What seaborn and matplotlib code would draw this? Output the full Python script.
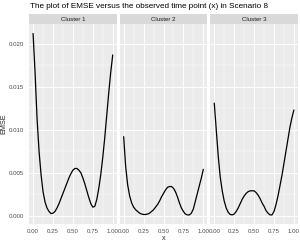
import numpy as np
import pandas as pd
import matplotlib
matplotlib.use("Agg")
import matplotlib.pyplot as plt
import seaborn as sns
from matplotlib.patches import Rectangle
from matplotlib.ticker import MultipleLocator, FormatStrFormatter

# -----------------------------
# DATA
# -----------------------------
x_points = [0.000, 0.025, 0.050, 0.075, 0.100, 0.125, 0.150, 0.175, 0.200, 0.225,
            0.250, 0.275, 0.300, 0.325, 0.350, 0.375, 0.400, 0.425, 0.450, 0.475,
            0.500, 0.525, 0.550, 0.575, 0.600, 0.625, 0.650, 0.675, 0.700, 0.725,
            0.750, 0.775, 0.800, 0.825, 0.850, 0.875, 0.900, 0.925, 0.950, 0.975,
            1.000]

emse_cluster1 = [0.0212, 0.0166, 0.0113, 0.0075, 0.0048, 0.0028, 0.0016, 0.0009,
                 0.0005, 0.00025, 0.0003, 0.0005, 0.0009, 0.0014, 0.0020, 0.0026,
                 0.0032, 0.0038, 0.0044, 0.0049, 0.0053, 0.0055, 0.0055, 0.0053,
                 0.0050, 0.0044, 0.0037, 0.0029, 0.0021, 0.0014, 0.0010, 0.0011,
                 0.0019, 0.0032, 0.0048, 0.0068, 0.0091, 0.0117, 0.0143, 0.0167,
                 0.0187]
emse_cluster2 = [0.0092, 0.0057, 0.0036, 0.0023, 0.0015, 0.0010, 0.0007, 0.0005,
                 0.0003, 0.0002, 0.00015, 0.00015, 0.0002, 0.0003, 0.0005, 0.0007,
                 0.0010, 0.0013, 0.0017, 0.0022, 0.0026, 0.0030, 0.0033, 0.0034,
                 0.0034, 0.0032, 0.0028, 0.0022, 0.0015, 0.0009, 0.0005, 0.0002,
                 0.0001, 0.0001, 0.0003, 0.0008, 0.0017, 0.0026, 0.0035, 0.0044,
                 0.0054]
emse_cluster3 = [0.0131, 0.0100, 0.0069, 0.0045, 0.0029, 0.0017, 0.0009, 0.0004,
                 0.00015, 0.0001, 0.0002, 0.0005, 0.0009, 0.0014, 0.0019, 0.0023,
                 0.0026, 0.0028, 0.0029, 0.0029, 0.0029, 0.0027, 0.0024, 0.0020,
                 0.0015, 0.0011, 0.0006, 0.0003, 0.0001, 0.0001, 0.0005, 0.0013,
                 0.0023, 0.0035, 0.0047, 0.0061, 0.0075, 0.0089, 0.0103, 0.0114,
                 0.0123]

cluster_names = ["Cluster 1", "Cluster 2", "Cluster 3"]
x_ticks = [0.00, 0.25, 0.50, 0.75, 1.00]
x_tick_labels = ["0.00", "0.25", "0.50", "0.75", "1.00"]
y_ticks = [0.000, 0.005, 0.010, 0.015, 0.020]

title_text = "The plot of EMSE versus the observed time point (x) in Scenario 8"

df = pd.DataFrame({
    "x": x_points * 3,
    "EMSE": emse_cluster1 + emse_cluster2 + emse_cluster3,
    "cluster": np.repeat(cluster_names, len(x_points)),
})

# -----------------------------
# STYLE (ggplot-ish grey theme)
# -----------------------------
sns.set_style("darkgrid")
plt.rcParams["font.family"] = ["Liberation Sans", "DejaVu Sans"]

fig, axes = plt.subplots(1, 3, figsize=(3.0, 2.45), dpi=100, sharey=True)
fig.subplots_adjust(left=0.097, right=0.993, bottom=0.086, top=0.902, wspace=0.034)

ymin, ymax = -0.00095, 0.0223

for ax, name in zip(axes, cluster_names):
    sub = df[df["cluster"] == name]
    sns.lineplot(data=sub, x="x", y="EMSE", ax=ax, color="black", linewidth=0.9)

    ax.set_facecolor("#EBEBEB")
    ax.set_xlim(-0.05, 1.05)
    ax.set_ylim(ymin, ymax)
    ax.set_xticks(x_ticks)
    ax.set_xticklabels(x_tick_labels)
    ax.set_yticks(y_ticks)
    ax.yaxis.set_major_formatter(FormatStrFormatter("%.3f"))
    ax.xaxis.set_minor_locator(MultipleLocator(0.125))
    ax.yaxis.set_minor_locator(MultipleLocator(0.0025))
    ax.grid(which="major", color="white", linewidth=0.7)
    ax.grid(which="minor", color="white", linewidth=0.35)
    ax.set_axisbelow(True)
    for s in ax.spines.values():
        s.set_visible(False)
    ax.tick_params(axis="both", which="major", length=2, width=0.5, color="#333333",
                   labelsize=4.4, labelcolor="#4D4D4D", pad=1.5)
    ax.tick_params(axis="both", which="minor", length=0)
    ax.set_xlabel("")
    ax.set_ylabel("")

    # facet strip
    strip_h = 10 / 200
    ax.add_patch(Rectangle((0, 1), 1, strip_h, transform=ax.transAxes,
                           facecolor="#D9D9D9", edgecolor="none", clip_on=False))
    ax.text(0.5, 1 + strip_h / 2, name, transform=ax.transAxes, ha="center",
            va="center", fontsize=4.4, color="#1A1A1A")

axes[0].set_ylabel("EMSE", fontsize=5.2, labelpad=1.5)
axes[1].set_xlabel("x", fontsize=5.2, labelpad=1)

fig.text(0.1, 0.975, title_text, ha="left", va="center", fontsize=5.85, color="black")

fig.savefig("out.png", dpi=100)
